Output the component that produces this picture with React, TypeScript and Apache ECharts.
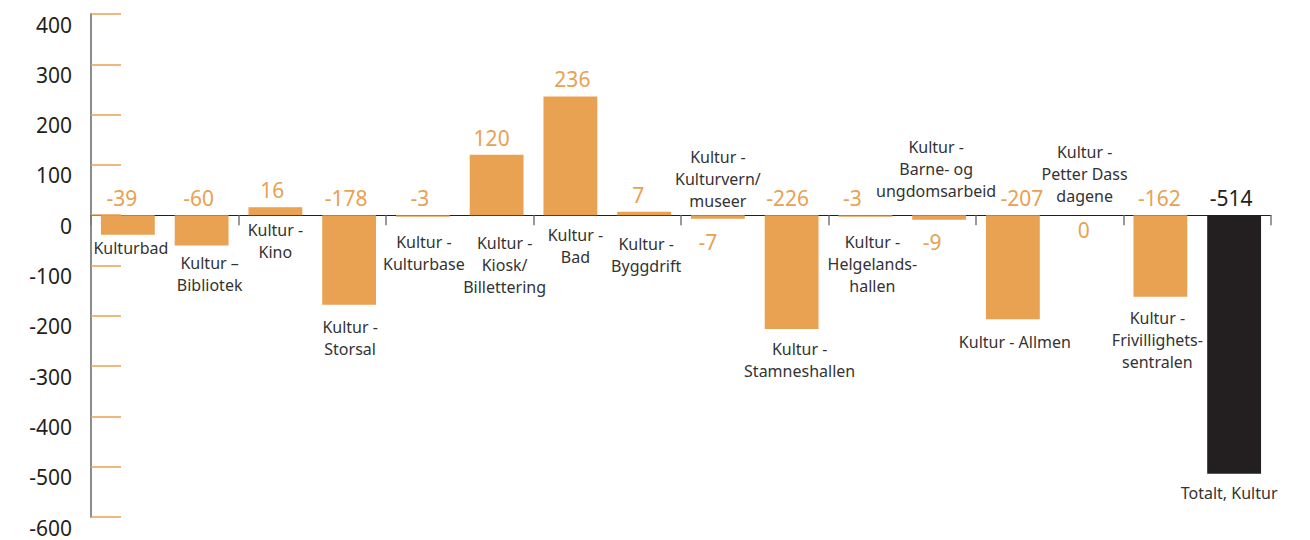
import React, { useEffect, useRef } from "react";
import * as echarts from "echarts";

const categories = [
  "Kulturbad",
  "Kultur –\nBibliotek",
  "Kultur -\nKino",
  "Kultur -\nStorsal",
  "Kultur -\nKulturbase",
  "Kultur -\nKiosk/\nBillettering",
  "Kultur -\nBad",
  "Kultur -\nByggdrift",
  "Kultur -\nKulturvern/\nmuseer",
  "Kultur -\nStamneshallen",
  "Kultur -\nHelgelands-\nhallen",
  "Kultur -\nBarne- og\nungdomsarbeid",
  "Kultur - Allmen",
  "Kultur -\nPetter Dass\ndagene",
  "Kultur -\nFrivillighets-\nsentralen",
  "Totalt, Kultur",
];
const values = [-39, -60, 16, -178, -3, 120, 236, 7, -7, -226, -3, -9, -207, 0, -162, -514];
const yTicks = { min: -600, max: 400, interval: 100 };

// label placement (style only)
const valueLabelDx = [-6, -3, -3, -3, -3, -5, 2, -6, -10, -4, -13, -7, 9, -3, -1, -3];
const valueLabelDy = [-17, -17, -17, -17, -17, -17, -17, -17, 27, -17, -17, 27, -17, 15, -17, -17];
const catAnchor = ["bar", "bar", "zero", "bar", "zero", "zero", "zero", "zero", "zero", "bar", "zero", "zero", "bar", "zero", "bar", "bar"];
const catDy = [13, 18, 15, 22, 27, 28, 20, 29, -58, 20, 27, -68, 23, -63, 21, 19];
const catDx = [3, 8, 0, 1, 1, 8, 5, 2, 0, 8, 7, -3, 2, -2, -3, -5];

const ORANGE = "#E9A152";
const DARK = "#231F20";
const FONT = "'Noto Sans', sans-serif";
const LINE_H = 22;

export default function App() {
  const ref = useRef<HTMLDivElement>(null);
  useEffect(() => {
    const chart = echarts.init(ref.current!, undefined, { renderer: "svg" });
    const lastIdx = values.length - 1;
    chart.setOption({
      animation: false,
      grid: { left: 91, right: 39, top: 14, bottom: 23, containLabel: false },
      xAxis: {
        type: "category",
        data: categories,
        axisLine: { onZero: true, lineStyle: { color: DARK, width: 1 } },
        axisTick: { show: true, length: 10, lineStyle: { color: "#777", width: 1.5 } },
        axisLabel: { show: false },
        splitLine: { show: false },
      },
      yAxis: {
        type: "value",
        min: yTicks.min,
        max: yTicks.max,
        interval: yTicks.interval,
        axisLine: { show: true, lineStyle: { color: "#8C8C8C", width: 2 } },
        axisTick: { show: true, inside: true, length: 30, lineStyle: { color: ORANGE, width: 1.5 } },
        splitLine: { show: false },
        axisLabel: {
          color: DARK,
          fontSize: 21,
          fontFamily: FONT,
          margin: 19,
          verticalAlign: "top",
        },
      },
      series: [
        {
          type: "bar",
          barWidth: "73%",
          data: values.map((v, i) => ({
            value: v,
            itemStyle: { color: i === lastIdx ? DARK : ORANGE },
          })),
          label: { show: false },
          z: 2,
        },
        {
          type: "custom",
          clip: false,
          z: 5,
          encode: { x: 0, y: 1 },
          data: values.map((v, i) => [i, v]),
          renderItem: (params: any, api: any) => {
            const i = api.value(0);
            const v = api.value(1);
            const top = api.coord([i, Math.max(v, 0)]);
            const zero = api.coord([i, 0]);
            const end = api.coord([i, v]);
            const anchorY = catAnchor[i] === "bar" ? end[1] : zero[1];
            return {
              type: "group",
              children: [
                {
                  type: "text",
                  x: top[0] + valueLabelDx[i],
                  y: top[1] + valueLabelDy[i],
                  style: {
                    text: String(values[i]),
                    fill: i === lastIdx ? DARK : ORANGE,
                    fontSize: 21,
                    fontFamily: FONT,
                    align: "center",
                    verticalAlign: "middle",
                  },
                },
                {
                  type: "text",
                  x: zero[0] + catDx[i],
                  y: anchorY + catDy[i] - LINE_H / 2,
                  style: {
                    text: categories[i],
                    fill: "#333333",
                    fontSize: 16,
                    fontFamily: FONT,
                    lineHeight: LINE_H,
                    align: "center",
                    verticalAlign: "top",
                  },
                },
              ],
            };
          },
        },
      ],
    });
    return () => chart.dispose();
  }, []);
  return (
    <div
      ref={ref}
      style={{ position: "absolute", left: 0, top: 0, width: 1310, height: 540 }}
    />
  );
}
